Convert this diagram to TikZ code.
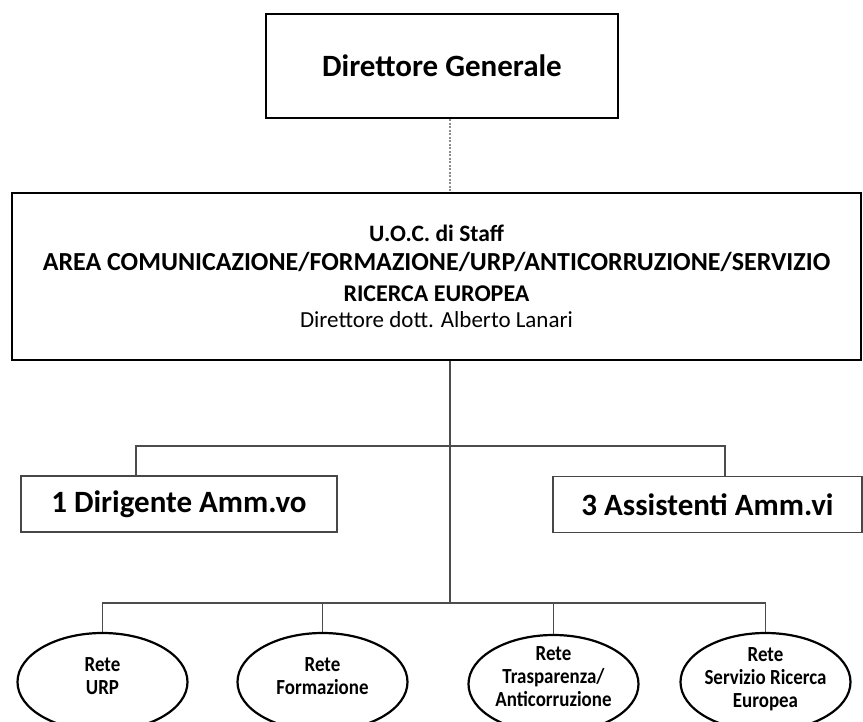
\documentclass[tikz,border=0pt]{standalone}
\usepackage{fontspec}
\usepackage{graphicx}
\setmainfont{Carlito}
\newfontfamily\condfont[FakeStretch=0.88]{Carlito}
\usetikzlibrary{shapes.geometric}
\begin{document}
\begin{tikzpicture}[x=1pt,y=-1pt,
  boxA/.style={draw=black, line width=2.8pt, inner sep=0pt, align=center},
  boxB/.style={draw=black!72, line width=1.7pt, inner sep=0pt, minimum width=316pt, minimum height=56pt, font=\fontsize{31}{36}\selectfont\bfseries},
  rete/.style={ellipse, draw=black, line width=2.2pt, minimum width=170pt, minimum height=98pt, inner sep=0pt},
  retetext/.style={align=center, inner sep=0pt, font=\condfont\bfseries\fontsize{21.5}{23}\selectfont},
  conn/.style={draw=black!70, line width=1.3pt},
  dotconn/.style={draw=black!45, line width=1.2pt, dash pattern=on 2pt off 1.5pt}
]
\useasboundingbox (0,0) rectangle (863,722);

\node[boxA, minimum width=352pt, minimum height=104pt] (dg) at (442,66)
  {\fontsize{31}{36}\selectfont\bfseries Direttore Generale};

\node[boxA, minimum width=849pt, minimum height=167pt, font=\fontsize{23}{28}\selectfont] (uoc) at (436.5,276.5)
  {{\fontsize{23.5}{28}\selectfont\bfseries U.O.C. di Staff}\\[1pt]
   {\fontsize{26}{28}\selectfont\bfseries AREA COMUNICAZIONE/FORMAZIONE/URP/ANTICORRUZIONE/SERVIZIO}\\[3pt]
   {\fontsize{24}{28}\selectfont\bfseries RICERCA EUROPEA}\\[-2pt]
   {\fontsize{23}{28}\selectfont Direttore dott. Alberto Lanari}};

\node[boxB] (dir) at (179,504) {1 Dirigente Amm.vo};
\node[boxB, minimum width=309pt] (ass) at (707.5,504.5) {3 Assistenti Amm.vi};

\node[rete] (e1) at (102.5,682) {};
\node[rete] (e2) at (322.5,682) {};
\node[rete] (e3) at (553.5,684) {};
\node[rete] (e4) at (765.5,682) {};
\node[retetext] (t1) at ([yshift=6pt]e1.center) {Rete\\URP};
\node[retetext] (t2) at ([yshift=6pt]e2.center) {Rete\\Formazione};
\node[retetext] (t3) at ([yshift=7pt]e3.center) {Rete\\Trasparenza/\\Anticorruzione};
\node[retetext] (t4) at ([yshift=3pt]e4.center) {Rete\\Servizio Ricerca\\Europea};

\coordinate (bus) at (450,603);
\coordinate (ldrop) at (136,446);
\coordinate (rdrop) at (725,446);

\draw[dotconn] (dg.south -| bus) -- (bus |- uoc.north);
\draw[conn] (uoc.south -| bus) -- (bus);
\draw[conn] (ldrop |- dir.north) -- (ldrop) -- (rdrop) -- (rdrop |- ass.north);
\draw[conn] (e1.north) -- (e1.north |- bus) -- (e4.north |- bus) -- (e4.north);
\draw[conn] (e2.north) -- (e2.north |- bus);
\draw[conn] (e3.north) -- (e3.north |- bus);
\end{tikzpicture}
\end{document}
